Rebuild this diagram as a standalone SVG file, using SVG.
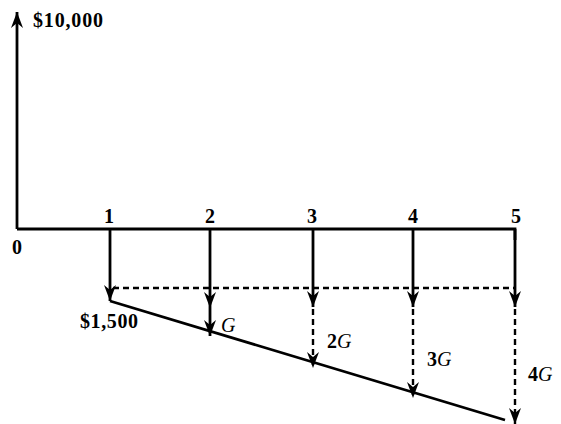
<svg xmlns="http://www.w3.org/2000/svg" width="561" height="424" viewBox="0 0 561 424">
<style>
.ln{stroke:#000;stroke-width:2.8;fill:none}
.ds{stroke:#000;stroke-width:2.4;fill:none;stroke-dasharray:6 4}
.t{font-family:"Liberation Serif","Times New Roman",serif;font-size:20px;font-weight:bold;fill:#000}
.i{font-style:italic;font-weight:normal}
</style>
<defs>
<marker id="ah" viewBox="0 0 16 12" refX="16" refY="6" markerWidth="16" markerHeight="12" markerUnits="userSpaceOnUse" orient="auto">
<path d="M0,0 L16,6 L0,12 L5,6 z" fill="#000"/>
</marker>
</defs>
<g id="axes">
<line class="ln" x1="17" y1="229" x2="17" y2="12" marker-end="url(#ah)"/>
<polyline class="ln" points="17,229 515,229 515,240"/>
</g>
<g id="labels">
<text class="t" x="33" y="27" textLength="70">$10,000</text>
<text class="t" x="17" y="254" text-anchor="middle">0</text>
<text class="t" x="109" y="223" text-anchor="middle">1</text>
<text class="t" x="210" y="223" text-anchor="middle">2</text>
<text class="t" x="312" y="223" text-anchor="middle">3</text>
<text class="t" x="413" y="223" text-anchor="middle">4</text>
<text class="t" x="516" y="223" text-anchor="middle">5</text>
<text class="t" x="80" y="328" textLength="58">$1,500</text>
<text class="t i" x="221" y="332">G</text>
<text class="t" x="327" y="348">2<tspan class="i">G</tspan></text>
<text class="t" x="427" y="366">3<tspan class="i">G</tspan></text>
<text class="t" x="528" y="381">4<tspan class="i">G</tspan></text>
</g>
<g id="connectors">
<line class="ln" x1="110" y1="229" x2="110" y2="301" marker-end="url(#ah)"/>
<line class="ln" x1="210" y1="229" x2="210" y2="308" marker-end="url(#ah)"/>
<line class="ln" x1="313" y1="229" x2="313" y2="307" marker-end="url(#ah)"/>
<line class="ln" x1="413" y1="229" x2="413" y2="307" marker-end="url(#ah)"/>
<line class="ln" x1="515" y1="229" x2="515" y2="307" marker-end="url(#ah)"/>
<line class="ln" x1="210" y1="308" x2="210" y2="336" marker-end="url(#ah)"/>
<line class="ds" x1="313" y1="309" x2="313" y2="368" marker-end="url(#ah)"/>
<line class="ds" x1="413" y1="309" x2="413" y2="398" marker-end="url(#ah)"/>
<line class="ds" x1="515" y1="309" x2="515" y2="424" marker-end="url(#ah)"/>
<line class="ds" x1="113" y1="288" x2="515" y2="288"/>
<line class="ln" x1="110" y1="301" x2="505" y2="420"/>
</g>
</svg>
